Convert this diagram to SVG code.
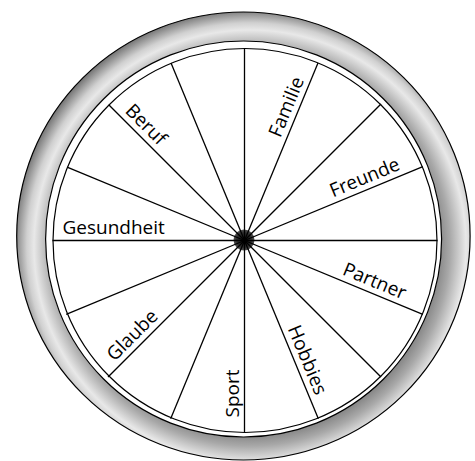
<svg xmlns="http://www.w3.org/2000/svg" width="475" height="461" viewBox="0 0 475 461">
  <defs>
    <radialGradient id="tireGrad" gradientUnits="userSpaceOnUse" cx="250" cy="246" r="240">
      <stop offset="0.77" stop-color="#7a7a7a"/>
      <stop offset="0.833" stop-color="#a8a8a8"/>
      <stop offset="0.9" stop-color="#e8e8e8"/>
      <stop offset="0.93" stop-color="#d0d0d0"/>
      <stop offset="0.983" stop-color="#7a7a7a"/>
      <stop offset="1" stop-color="#6e6e6e"/>
    </radialGradient>
    <radialGradient id="hubGrad" cx="0.5" cy="0.5" r="0.5">
      <stop offset="0" stop-color="#1a1a1a"/>
      <stop offset="0.7" stop-color="#2e2e2e"/>
      <stop offset="1" stop-color="#555555"/>
    </radialGradient>
  </defs>
  <style>
    .edge { stroke: #000; stroke-width: 1.2; }
    .spoke { stroke: #000; stroke-width: 1.3; }
    .lbl { font-family: "Open Sans", "Noto Sans", "DejaVu Sans", sans-serif; font-size: 19px; fill: #000; }
  </style>
  <rect width="475" height="461" fill="#fff"/>
  <g id="wheel">
    <ellipse cx="243.4" cy="236" rx="226.7" ry="224" fill="url(#tireGrad)" class="edge"/>
    <circle cx="243.6" cy="239" r="198" fill="#fff" class="edge"/>
    <circle cx="245" cy="240.5" r="192" fill="#fff" class="edge"/>
  </g>
  <g id="hub">
    <circle cx="244" cy="240" r="10.5" fill="url(#hubGrad)"/>
  </g>
  <g id="connectors" transform="translate(244.5,240.5)">
    <line class="spoke" x1="0" y1="0" x2="193" y2="0" transform="rotate(0)"/>
    <line class="spoke" x1="0" y1="0" x2="193" y2="0" transform="rotate(22.5)"/>
    <line class="spoke" x1="0" y1="0" x2="193" y2="0" transform="rotate(45)"/>
    <line class="spoke" x1="0" y1="0" x2="193" y2="0" transform="rotate(67.5)"/>
    <line class="spoke" x1="0" y1="0" x2="192" y2="0" transform="rotate(90)"/>
    <line class="spoke" x1="0" y1="0" x2="193" y2="0" transform="rotate(112.5)"/>
    <line class="spoke" x1="0" y1="0" x2="193" y2="0" transform="rotate(135)"/>
    <line class="spoke" x1="0" y1="0" x2="193" y2="0" transform="rotate(157.5)"/>
    <line class="spoke" x1="0" y1="0" x2="192" y2="0" transform="rotate(180)"/>
    <line class="spoke" x1="0" y1="0" x2="192" y2="0" transform="rotate(202.5)"/>
    <line class="spoke" x1="0" y1="0" x2="192" y2="0" transform="rotate(225)"/>
    <line class="spoke" x1="0" y1="0" x2="192" y2="0" transform="rotate(247.5)"/>
    <line class="spoke" x1="0" y1="0" x2="192" y2="0" transform="rotate(270)"/>
    <line class="spoke" x1="0" y1="0" x2="192" y2="0" transform="rotate(292.5)"/>
    <line class="spoke" x1="0" y1="0" x2="193" y2="0" transform="rotate(315)"/>
    <line class="spoke" x1="0" y1="0" x2="193" y2="0" transform="rotate(337.5)"/>
  </g>
  <g id="label-gesundheit"><text class="lbl" transform="translate(244.5,240.5) rotate(0)" x="-182" y="-7">Gesundheit</text></g>
  <g id="label-beruf"><text class="lbl" transform="translate(244.5,240.5) rotate(45)" x="-176" y="-6">Beruf</text></g>
  <g id="label-familie"><text class="lbl" transform="translate(244.5,240.5) rotate(-67.5)" x="171" y="-6" text-anchor="end">Familie</text></g>
  <g id="label-freunde"><text class="lbl" transform="translate(244.5,240.5) rotate(-22.5)" x="172" y="-6" text-anchor="end">Freunde</text></g>
  <g id="label-partner"><text class="lbl" transform="translate(244.5,240.5) rotate(22.5)" x="169" y="-6" text-anchor="end">Partner</text></g>
  <g id="label-hobbies"><text class="lbl" transform="translate(244.5,240.5) rotate(67.5)" x="171" y="-6" text-anchor="end">Hobbies</text></g>
  <g id="label-sport"><text class="lbl" transform="translate(244.5,240.5) rotate(-90)" x="-177" y="-6">Sport</text></g>
  <g id="label-glaube"><text class="lbl" transform="translate(244.5,240.5) rotate(-45)" x="-178" y="-6">Glaube</text></g>
</svg>
